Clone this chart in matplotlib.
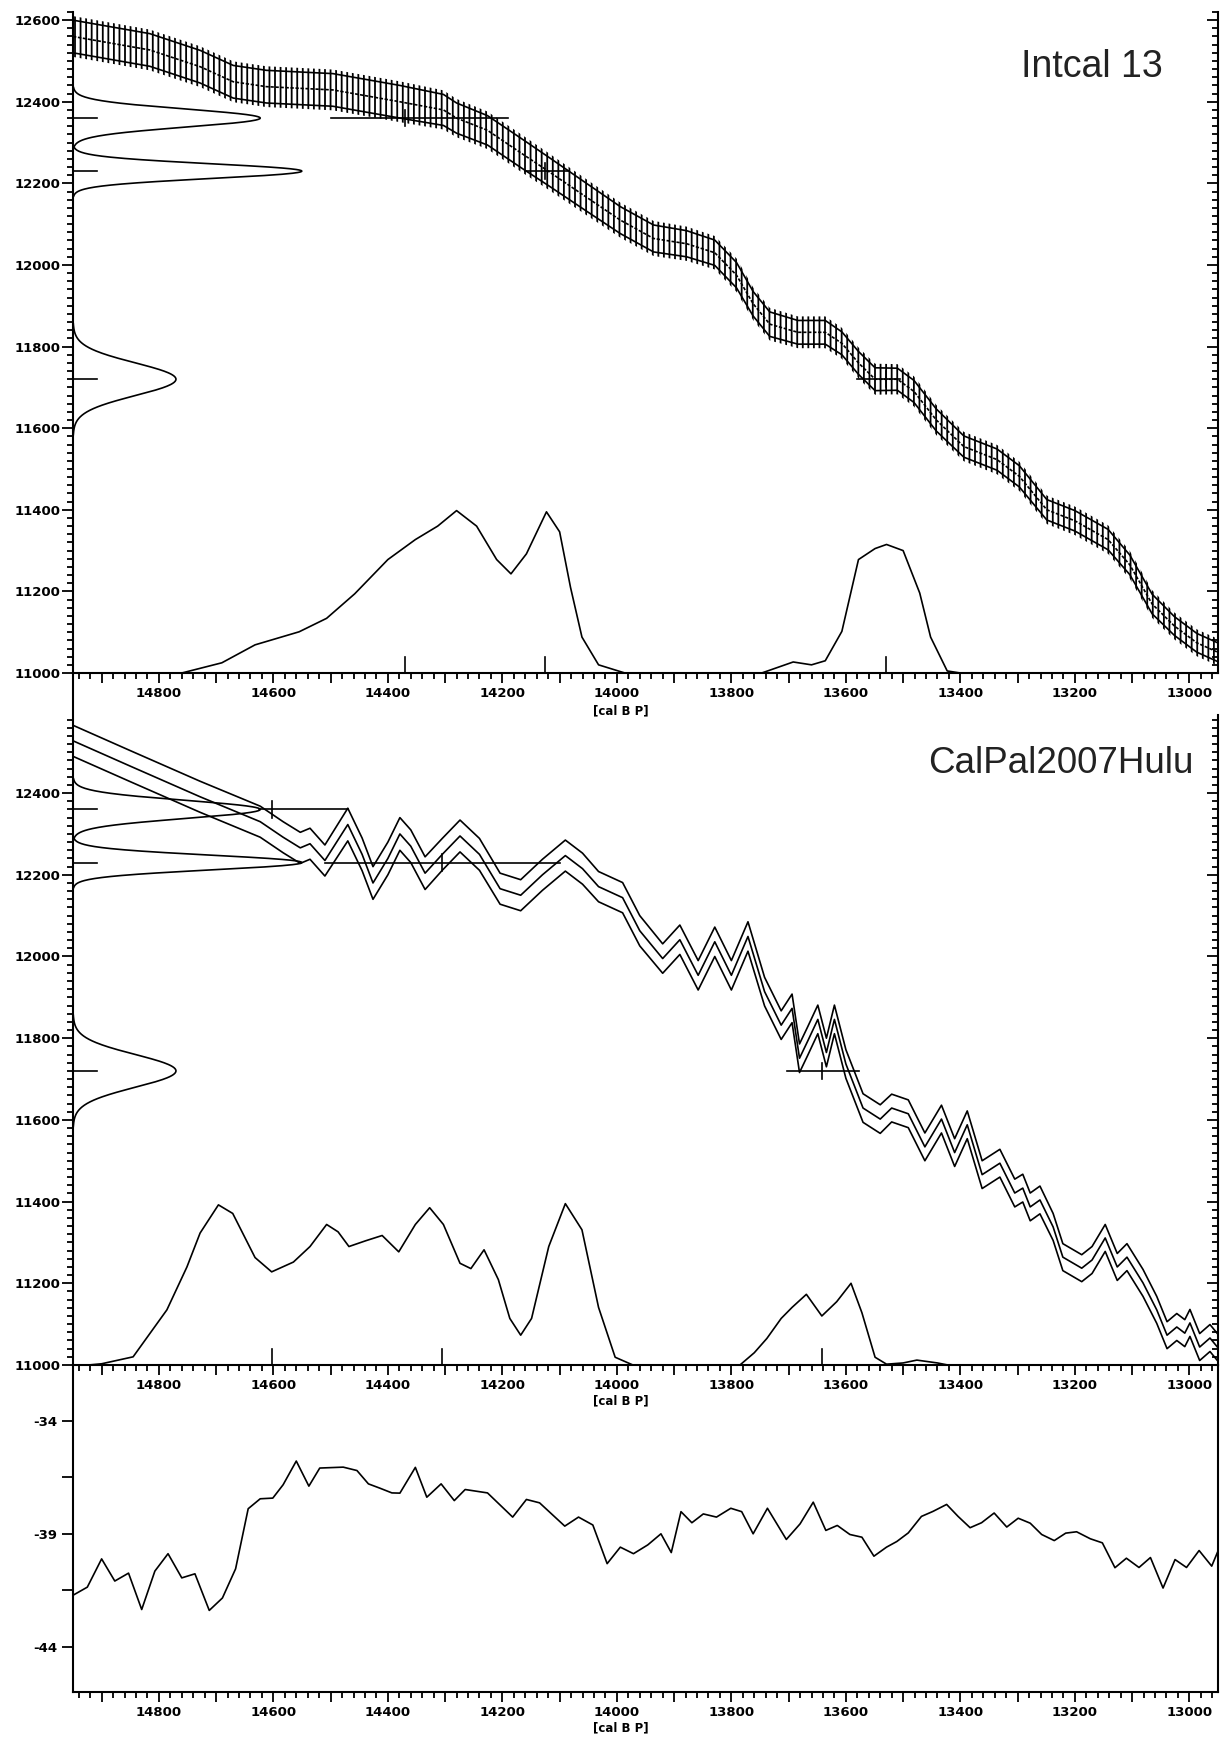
import numpy as np
import matplotlib.pyplot as plt
from matplotlib.ticker import MultipleLocator, FixedLocator, FuncFormatter

plt.rcParams['axes.unicode_minus'] = False
plt.rcParams['font.weight'] = 'bold'
plt.rcParams['hatch.linewidth'] = 1.3

# Edades 14C de las muestras (BP) y sus errores
edades = [12360, 12230, 11720]
errores = [22, 18, 40]

# Curva Intcal 13: años cal BP, edad 14C y sigma
ic_x = [14950, 14816, 14728, 14670, 14612, 14496, 14379, 14303, 14280, 14226, 14168, 14120,
        14052, 13994, 13936, 13878, 13829, 13791, 13762, 13733, 13684, 13636, 13607, 13578,
        13549, 13510, 13481, 13442, 13394, 13336, 13297, 13249, 13200, 13142, 13104, 13065,
        13026, 12987, 12949]
ic_y = [12560, 12527, 12486, 12449, 12437, 12429, 12400, 12380, 12360, 12330, 12275, 12230,
        12165, 12110, 12065, 12052, 12030, 11975, 11905, 11855, 11835, 11835, 11808, 11760,
        11720, 11720, 11690, 11620, 11555, 11523, 11482, 11400, 11373, 11327, 11265, 11169,
        11115, 11074, 11050]
ic_s = [40, 40, 40, 40, 40, 40, 40, 38, 37, 36, 36, 35,
        34, 33, 33, 32, 31, 31, 30, 30, 29, 29, 28, 28,
        28, 27, 27, 27, 26, 26, 26, 25, 25, 25, 24, 24,
        23, 23, 23]

# Curva CalPal2007Hulu: media y sigma
cp_x = [14950, 14850, 14728, 14623, 14583, 14553, 14536, 14510, 14470, 14445, 14426, 14400,
        14379, 14360, 14335, 14305, 14274, 14240, 14204, 14168, 14130, 14090, 14060, 14032,
        13990, 13960, 13920, 13890, 13858, 13829, 13800, 13771, 13742, 13713, 13694, 13681,
        13667, 13649, 13634, 13620, 13600, 13570, 13540, 13520, 13491, 13462, 13433, 13410,
        13388, 13362, 13331, 13305, 13291, 13278, 13261, 13238, 13221, 13188, 13170, 13147,
        13126, 13109, 13081, 13057, 13039, 13022, 13008, 12999, 12982, 12964, 12947]
cp_y = [12528, 12466, 12391, 12330, 12292, 12266, 12276, 12235, 12323, 12250, 12180, 12240,
        12300, 12270, 12204, 12250, 12295, 12250, 12166, 12150, 12200, 12247, 12215, 12171,
        12144, 12063, 11995, 12041, 11954, 12036, 11954, 12049, 11914, 11832, 11873, 11751,
        11792, 11846, 11765, 11846, 11737, 11629, 11602, 11629, 11615, 11534, 11602, 11520,
        11588, 11466, 11494, 11421, 11433, 11387, 11404, 11338, 11264, 11237, 11257, 11311,
        11240, 11264, 11201, 11135, 11073, 11093, 11078, 11103, 11044, 11066, 11037]
cp_s = [38, 38, 38, 38, 38, 38, 38, 38, 40, 40, 40, 40,
        40, 40, 40, 39, 39, 39, 38, 38, 38, 38, 38, 37,
        37, 37, 36, 36, 36, 36, 36, 36, 35, 35, 35, 35,
        35, 35, 35, 35, 35, 35, 35, 34, 34, 34, 34, 34,
        34, 34, 34, 34, 34, 34, 34, 33, 33, 33, 33, 33,
        33, 33, 33, 33, 33, 33, 33, 33, 33, 33, 33]

# Distribución calibrada (Intcal 13)
d1_x = [14760, 14690, 14632, 14555, 14507, 14458, 14400, 14352, 14313, 14280, 14245, 14210,
        14185, 14158, 14123, 14100, 14081, 14061, 14032, 13986, 13747, 13692, 13660, 13636,
        13607, 13578, 13549, 13529, 13500, 13471, 13452, 13423, 13400]
d1_y = [11000, 11025, 11069, 11101, 11134, 11194, 11278, 11327, 11360, 11398, 11360, 11278,
        11243, 11292, 11395, 11346, 11210, 11088, 11020, 11000, 11000, 11027, 11020, 11030,
        11102, 11278, 11305, 11315, 11300, 11196, 11088, 11005, 11000]

# Distribución calibrada (CalPal2007Hulu)
d2_x = [14923, 14900, 14845, 14786, 14751, 14728, 14696, 14671, 14632, 14603, 14565, 14536,
        14507, 14487, 14468, 14439, 14410, 14381, 14352, 14327, 14303, 14274, 14255, 14232,
        14207, 14187, 14168, 14149, 14119, 14090, 14061, 14032, 14003, 13972, 13785, 13760,
        13738, 13713, 13694, 13669, 13642, 13616, 13591, 13572, 13549, 13529, 13500, 13476,
        13440, 13422]
d2_y = [11000, 11003, 11020, 11135, 11240, 11323, 11392, 11371, 11263, 11228, 11252, 11290,
        11344, 11326, 11290, 11304, 11317, 11277, 11344, 11385, 11344, 11249, 11236, 11282,
        11209, 11114, 11073, 11114, 11290, 11395, 11331, 11141, 11019, 11000, 11000, 11030,
        11065, 11114, 11141, 11173, 11120, 11155, 11200, 11128, 11019, 11002, 11005, 11012,
        11005, 11000]

# Rangos y medianas de cada muestra
rango1_ini = [14500, 14160, 13580]
rango1_fin = [14190, 14085, 13505]
mediana1 = [14370, 14125, 13530]
rango2_ini = [14625, 14510, 13703]
rango2_fin = [14470, 14100, 13577]
mediana2 = [14603, 14305, 13642]

# Serie del panel inferior
s_x = [14948, 14925, 14900, 14877, 14853, 14830, 14807, 14784, 14760, 14737, 14712, 14689,
       14666, 14644, 14623, 14601, 14583, 14560, 14538, 14519, 14478, 14454, 14434, 14414,
       14393, 14379, 14352, 14332, 14307, 14284, 14265, 14226, 14182, 14158, 14135, 14091,
       14067, 14042, 14017, 13994, 13971, 13946, 13923, 13905, 13888, 13869, 13849, 13826,
       13801, 13782, 13762, 13737, 13704, 13680, 13657, 13635, 13615, 13593, 13572, 13551,
       13529, 13511, 13491, 13468, 13448, 13424, 13404, 13383, 13363, 13341, 13319, 13299,
       13278, 13258, 13236, 13216, 13197, 13173, 13152, 13130, 13110, 13088, 13068, 13046,
       13025, 13005, 12983, 12961, 12946]
s_y = [-41.69, -41.36, -40.11, -41.09, -40.74, -42.35, -40.65, -39.88, -40.95, -40.77, -42.39, -41.84,
       -40.55, -37.89, -37.45, -37.42, -36.83, -35.78, -36.89, -36.09, -36.05, -36.20, -36.79, -36.98,
       -37.19, -37.20, -36.06, -37.38, -36.79, -37.53, -37.04, -37.19, -38.26, -37.48, -37.63, -38.66,
       -38.26, -38.61, -40.32, -39.59, -39.88, -39.49, -39.00, -39.83, -38.02, -38.51, -38.12, -38.26,
       -37.87, -38.02, -39.00, -37.87, -39.25, -38.56, -37.60, -38.85, -38.63, -39.03, -39.15, -39.99,
       -39.59, -39.34, -38.96, -38.23, -38.01, -37.70, -38.23, -38.73, -38.51, -38.08, -38.70, -38.31,
       -38.53, -39.03, -39.30, -38.97, -38.91, -39.22, -39.40, -40.50, -40.08, -40.49, -40.05, -41.40,
       -40.14, -40.49, -39.74, -40.43, -39.52]

W, H = 1220, 1738
LW = 1.2


def caja(izq, der, arr, aba):
    return [izq / W, 1 - aba / H, (der - izq) / W, (aba - arr) / H]


def eje_x(ax):
    ax.set_xlim(14950, 12950)
    ax.xaxis.set_major_locator(MultipleLocator(100))
    ax.xaxis.set_minor_locator(MultipleLocator(20))
    ax.xaxis.set_major_formatter(FuncFormatter(lambda v, p: f'{v:.0f}' if round(v) % 200 == 0 else ''))
    ax.tick_params(axis='x', which='major', length=7, width=1.3, labelsize=9.5, pad=3)
    ax.tick_params(axis='x', which='minor', length=4.5, width=1.3)
    ax.spines['top'].set_visible(False)
    for s in ['left', 'right', 'bottom']:
        ax.spines[s].set_linewidth(1.5)
    ax.patch.set_visible(False)


def eje_y_14c(ax, mayores, menores, tope):
    ax.set_ylim(11000, tope)
    ax.yaxis.set_major_locator(FixedLocator(mayores))
    ax.yaxis.set_minor_locator(FixedLocator(menores))
    ax.yaxis.set_major_formatter(FuncFormatter(lambda v, p: f'{v:.0f}'))
    ax.tick_params(axis='y', which='major', length=8, width=1.3, labelsize=9.5, pad=1)
    ax.tick_params(axis='y', which='minor', length=4.5, width=1.3)
    # marcas del lado derecho hacia adentro
    axr = ax.twinx()
    axr.set_ylim(11000, tope)
    axr.yaxis.set_major_locator(FixedLocator(mayores))
    axr.yaxis.set_minor_locator(FixedLocator(menores))
    axr.tick_params(axis='y', which='major', direction='in', length=8, width=1.3, labelright=False)
    axr.tick_params(axis='y', which='minor', direction='in', length=4.5, width=1.3)
    for s in axr.spines.values():
        s.set_visible(False)


def gaussianas(ax):
    for edad, sig in zip(edades, errores):
        yy = np.linspace(edad - 3.4 * sig, edad + 3.4 * sig, 200)
        amp = 7194 / sig
        ax.plot(14950 - amp * np.exp(-0.5 * ((yy - edad) / sig) ** 2), yy, color='black', lw=LW)
        ax.plot([14950, 14908], [edad, edad], color='black', lw=LW)


def rangos(ax, ini, fin, med):
    for e, a, b, m in zip(edades, ini, fin, med):
        ax.plot([a, b], [e, e], color='black', lw=LW)
        ax.plot([m, m], [e - 20, e + 20], color='black', lw=LW)
        ax.plot([m, m], [11000, 11038], color='black', lw=LW)


fig = plt.figure(figsize=(12.2, 17.38), dpi=100)

# Panel 1: Intcal 13
ax1 = fig.add_axes(caja(73, 1218, 12, 673))
ic_x_a = np.array(ic_x)
ic_y_a = np.array(ic_y)
ic_s_a = np.array(ic_s)
ax1.fill_between(ic_x_a, ic_y_a - ic_s_a - 10, ic_y_a + ic_s_a + 10, facecolor='none',
                 edgecolor='black', hatch='|||', linewidth=0)
ax1.plot(ic_x_a, ic_y_a + ic_s_a, color='black', lw=LW)
ax1.plot(ic_x_a, ic_y_a - ic_s_a, color='black', lw=LW)
ax1.plot(ic_x_a, ic_y_a, color='black', lw=1.2, ls=(0, (2, 1)))
ax1.plot(d1_x, d1_y, color='black', lw=LW)
gaussianas(ax1)
rangos(ax1, rango1_ini, rango1_fin, mediana1)
eje_x(ax1)
eje_y_14c(ax1, np.arange(11000, 12601, 200), np.arange(11000, 12621, 20), 12620)

# Panel 2: CalPal2007Hulu
ax2 = fig.add_axes(caja(73, 1218, 673, 1365))
cp_x_a = np.array(cp_x)
cp_y_a = np.array(cp_y)
cp_s_a = np.array(cp_s)
for k in [-1, 0, 1]:
    ax2.plot(cp_x_a, cp_y_a + k * cp_s_a, color='black', lw=LW)
ax2.plot(d2_x, d2_y, color='black', lw=LW)
gaussianas(ax2)
rangos(ax2, rango2_ini, rango2_fin, mediana2)
eje_x(ax2)
eje_y_14c(ax2, np.arange(11000, 12401, 200), np.arange(11000, 12581, 20), 12694)
ax2.spines['right'].set_bounds(11000, 12590)

# Panel 3: serie
ax3 = fig.add_axes(caja(73, 1218, 1365, 1692))
ax3.plot(s_x, s_y, color='black', lw=LW)
eje_x(ax3)
ax3.set_ylim(-46, -31.53)
ax3.yaxis.set_major_locator(FixedLocator([-44, -41.5, -39, -36.5, -34]))
ax3.yaxis.set_major_formatter(FuncFormatter(lambda v, p: f'{v:.0f}' if v == round(v) else ''))
ax3.tick_params(axis='y', which='major', length=8, width=1.3, labelsize=9.5, pad=3)

# Etiquetas de eje
for yl in [711, 1401, 1728]:
    fig.text(621 / W, 1 - yl / H, '[cal B P]', ha='center', va='center', fontsize=8.5)

# Títulos
fig.text(1163 / W, 1 - 77 / H, 'Intcal 13', ha='right', va='baseline', fontsize=27,
         family='Liberation Sans', fontweight='normal', color='#222222')
fig.text(1193 / W, 1 - 773 / H, 'CalPal2007Hulu', ha='right', va='baseline', fontsize=26.5,
         family='Liberation Sans', fontweight='normal', color='#222222')

plt.savefig('out.png', dpi=100)
